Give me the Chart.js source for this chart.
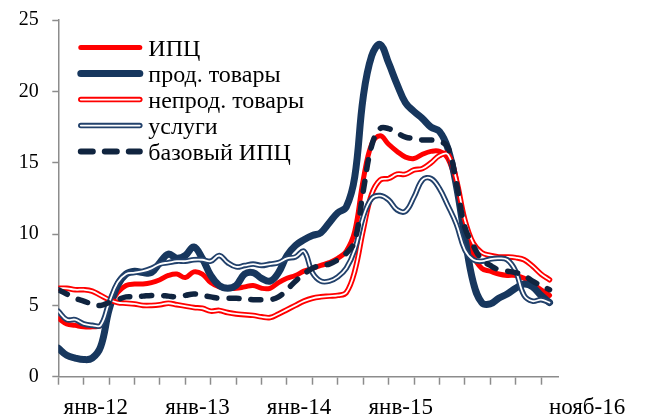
<!DOCTYPE html>
<html>
<head>
<meta charset="utf-8">
<script src="https://cdn.jsdelivr.net/npm/chart.js@4/dist/chart.umd.min.js"></script>
<style>
html,body{margin:0;padding:0;background:#fff;}
#wrap{width:646px;height:418px;position:relative;}
</style>
</head>
<body>
<div id="wrap"><canvas id="c" width="646" height="418"></canvas></div>
<script>
// Categories: monthly, Jan 2012 .. Nov 2016
const months = [
  'янв-12','фев-12','мар-12','апр-12','май-12','июн-12','июл-12','авг-12','сен-12','окт-12','нояб-12','дек-12',
  'янв-13','фев-13','мар-13','апр-13','май-13','июн-13','июл-13','авг-13','сен-13','окт-13','нояб-13','дек-13',
  'янв-14','фев-14','мар-14','апр-14','май-14','июн-14','июл-14','авг-14','сен-14','окт-14','нояб-14','дек-14',
  'янв-15','фев-15','мар-15','апр-15','май-15','июн-15','июл-15','авг-15','сен-15','окт-15','нояб-15','дек-15',
  'янв-16','фев-16','мар-16','апр-16','май-16','июн-16','июл-16','авг-16','сен-16','окт-16','нояб-16'
];
const xTickIdx = [0,3,6,9,12,15,18,21,24,27,30,33,36,39,42,45,48,51,54,57,58];
const xLabelIdx = [0,12,24,36,58];
const yTicks = [0,5,10,15,20,25];
const seriesNames = ['ИПЦ','прод. товары','непрод. товары','услуги','базовый ИПЦ'];

const cpi = [
  4.1,3.7,3.6,3.5,3.5,3.6,4.9,5.9,6.4,6.5,6.5,6.6,
  6.8,7.1,7.2,6.95,7.35,7.2,6.6,6.3,6.2,6.2,6.3,6.4,
  6.2,6.2,6.6,6.9,7.1,7.4,7.6,7.8,8.0,8.3,8.8,10.2,
  13.8,16.3,16.9,16.3,15.8,15.4,15.3,15.6,15.8,15.8,15.3,13.5,
  10.6,8.5,7.6,7.4,7.2,7.1,7.1,6.9,6.5,6.1,5.7
];
const food = [
  2.0,1.5,1.3,1.2,1.3,2.1,4.7,6.4,7.2,7.4,7.3,7.3,
  8.0,8.6,8.3,8.5,9.1,8.3,7.1,6.4,6.2,6.4,7.2,7.3,
  6.9,6.7,7.3,8.5,9.2,9.6,9.9,10.1,10.8,11.5,11.9,14.0,
  19.6,22.5,23.3,22.0,20.5,19.2,18.6,18.1,17.5,17.2,16.0,13.4,
  9.8,6.6,5.2,5.1,5.5,5.8,6.2,6.5,6.3,5.7,5.2
];
const nonFood = [
  6.2,6.2,6.1,6.1,6.0,5.7,5.4,5.2,5.15,5.1,5.0,5.0,
  5.05,5.15,5.05,4.95,4.85,4.8,4.6,4.65,4.5,4.4,4.35,4.3,
  4.2,4.15,4.4,4.7,5.0,5.3,5.5,5.6,5.65,5.7,5.9,7.4,
  10.3,12.8,13.8,13.9,14.2,14.2,14.5,14.6,15.0,15.5,15.6,13.8,
  11.0,9.35,8.7,8.5,8.4,8.4,8.35,8.2,7.75,7.2,6.8
];
const services = [
  4.6,4.0,4.0,3.7,3.6,3.6,5.2,6.6,7.2,7.3,7.4,7.6,
  7.9,8.0,8.1,8.1,8.2,8.2,8.1,8.5,8.0,7.7,7.8,7.9,
  7.8,7.9,8.0,8.3,8.4,8.8,7.3,6.7,6.7,7.0,7.6,8.9,
  11.2,12.5,12.7,12.4,11.7,11.6,12.6,13.8,13.9,13.2,12.0,10.7,
  8.9,8.2,8.1,8.25,8.3,8.2,7.4,5.7,5.3,5.4,5.2
];
const core = [
  6.1,5.8,5.5,5.3,5.1,5.0,5.2,5.4,5.6,5.6,5.65,5.7,
  5.7,5.65,5.6,5.7,5.8,5.7,5.6,5.5,5.5,5.5,5.45,5.4,
  5.4,5.4,5.6,6.1,6.7,7.2,7.6,7.8,7.9,8.2,8.65,9.5,
  13.0,16.2,17.4,17.4,17.1,16.8,16.7,16.6,16.6,16.5,16.1,13.6,
  10.5,9.2,8.2,7.8,7.5,7.4,7.3,7.1,6.7,6.4,6.1
];

const RED = '#FF0000';
const NAVY = '#17375E';
const NAVY_S = '#22416B';
const NAVY_D = '#10243F';
const AXIS = '#8C8C8C';
const FONT = 'Liberation Serif, Times New Roman, serif';

const toXY = arr => arr.map((v, i) => ({x: i, y: v}));
const lineBase = {pointRadius: 0, pointHoverRadius: 0, fill: false, tension: 0.4,
                  borderCapStyle: 'round', borderJoinStyle: 'round'};

const legendItems = [
  {name: seriesNames[0], color: RED, width: 5},
  {name: seriesNames[1], color: NAVY, width: 7},
  {name: seriesNames[2], color: RED, width: 5.5, inner: 1.8},
  {name: seriesNames[3], color: NAVY_S, width: 5.5, inner: 1.8},
  {name: seriesNames[4], color: NAVY_D, width: 6, dash: [12, 12]}
];

const legendPlugin = {
  id: 'refLegend',
  afterDraw(chart) {
    const ctx = chart.ctx;
    const a = chart.chartArea;
    const xs = a.left + 22.5, xe = a.left + 81.5, xt = a.left + 90;
    const y0 = a.top + 27.4, step = 26;
    legendItems.forEach((it, i) => {
      const y = y0 + i * step;
      ctx.save();
      ctx.lineCap = 'round';
      ctx.strokeStyle = it.color;
      ctx.lineWidth = it.width;
      ctx.setLineDash(it.dash || []);
      ctx.beginPath(); ctx.moveTo(xs, y); ctx.lineTo(xe, y); ctx.stroke();
      if (it.inner) {
        ctx.setLineDash([]);
        ctx.strokeStyle = '#FFFFFF';
        ctx.lineWidth = it.inner;
        ctx.beginPath(); ctx.moveTo(xs, y); ctx.lineTo(xe, y); ctx.stroke();
      }
      ctx.fillStyle = '#000';
      ctx.font = '24px ' + FONT;
      ctx.textAlign = 'left';
      ctx.textBaseline = 'alphabetic';
      ctx.fillText(it.name, xt, y + 8);
      ctx.restore();
    });
  }
};

new Chart(document.getElementById('c'), {
  type: 'line',
  data: {
    datasets: [
      Object.assign({}, lineBase, {label: seriesNames[0], data: toXY(cpi), borderColor: RED, borderWidth: 5, order: 9}),
      Object.assign({}, lineBase, {label: seriesNames[1], data: toXY(food), borderColor: NAVY, borderWidth: 7, order: 8}),
      Object.assign({}, lineBase, {label: seriesNames[2], data: toXY(nonFood), borderColor: RED, borderWidth: 5.5, order: 7}),
      Object.assign({}, lineBase, {label: seriesNames[2] + ' ', data: toXY(nonFood), borderColor: '#FFFFFF', borderWidth: 1.8, order: 6}),
      Object.assign({}, lineBase, {label: seriesNames[3], data: toXY(services), borderColor: NAVY_S, borderWidth: 5.5, order: 5}),
      Object.assign({}, lineBase, {label: seriesNames[3] + ' ', data: toXY(services), borderColor: '#FFFFFF', borderWidth: 1.8, order: 4}),
      Object.assign({}, lineBase, {label: seriesNames[4], data: toXY(core), borderColor: NAVY_D, borderWidth: 5.5, borderDash: [10, 12], order: 3})
    ]
  },
  options: {
    responsive: false,
    animation: false,
    devicePixelRatio: 1,
    layout: {padding: {left: 0, top: 20.2, right: 88, bottom: 0}},
    plugins: {legend: {display: false}, tooltip: {enabled: false}},
    scales: {
      x: {
        type: 'linear', min: 0, max: 59,
        afterBuildTicks: s => { s.ticks = xTickIdx.map(v => ({value: v})); },
        afterFit: s => { s.height = 41.3; s.paddingLeft = 0; s.paddingRight = 0; },
        border: {display: true, color: AXIS, width: 1.5},
        grid: {drawOnChartArea: false, drawTicks: true, tickLength: 8, tickWidth: 1.5,
               tickColor: c => (c.tick && c.tick.value === 58) ? 'rgba(0,0,0,0)' : AXIS},
        ticks: {autoSkip: false, maxRotation: 0, minRotation: 0, labelOffset: 37.5, padding: 9,
                color: '#000', font: {family: FONT, size: 23},
                callback: v => xLabelIdx.includes(v) ? months[v] : ''}
      },
      y: {
        min: 0, max: 25,
        afterBuildTicks: s => { s.ticks = yTicks.map(v => ({value: v})); },
        afterFit: s => { s.width = 58.3; s.paddingTop = 0; s.paddingBottom = 0; },
        border: {display: true, color: AXIS, width: 1.5},
        grid: {drawOnChartArea: false, drawTicks: true, tickLength: 6, tickWidth: 1.5, tickColor: AXIS},
        ticks: {padding: 13.5, color: '#000', font: {family: FONT, size: 20}}
      }
    }
  },
  plugins: [legendPlugin]
});
</script>
</body>
</html>
